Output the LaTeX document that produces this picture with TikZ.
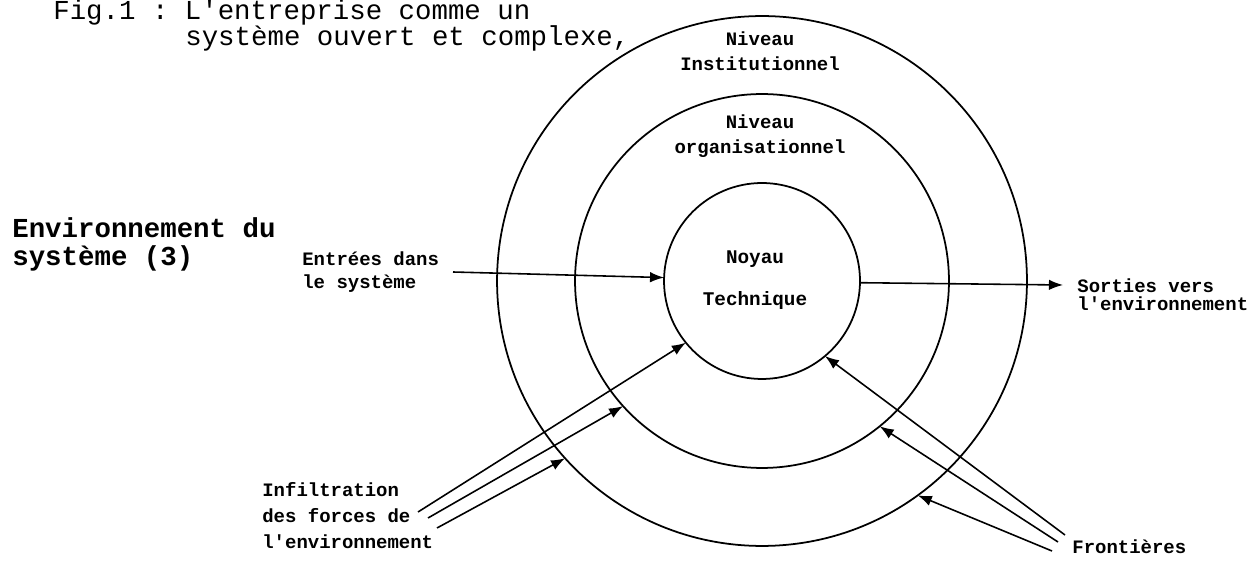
\documentclass[tikz,border=0pt]{standalone}
\usepackage{fontspec}
\setmonofont{Liberation Mono}
\usetikzlibrary{arrows.meta}
\begin{document}
\begin{tikzpicture}[x=0.02cm,y=-0.02cm,
	ring/.style={circle,draw,line width=1pt,inner sep=0pt,outer sep=0pt},
	lbl/.style={font=\ttfamily\bfseries\fontsize{10.8}{14.7}\selectfont,align=left,inner sep=0pt},
	big/.style={font=\ttfamily\fontsize{15.6}{15.9}\selectfont,align=left,inner sep=0pt},
	arr/.style={line width=0.9pt,-{Latex[length=8pt,width=6pt]}}]
	\useasboundingbox (0,0) rectangle (1253,573);

	%title and environment
	\node[big,anchor=base west] (fig) at (53,20) {Fig.1 : L'entreprise comme un};
	\node[big,anchor=base west] (figb) at (185,46) {système ouvert et complexe,};
	\node[big,font=\ttfamily\bfseries\fontsize{15.6}{16.5}\selectfont,anchor=base west] (env) at (12,266) {Environnement du\\système (3)};

	%the three levels
	\node[ring,minimum size=10.6cm] (outer) at (762,281) {};
	\node[ring,minimum size=7.48cm] (middle) at (762,281) {};
	\node[ring,minimum size=3.92cm] (core) at (762,281) {};
	\node[lbl,align=center,anchor=base] (inst) at (760,71) {Niveau\\Institutionnel};
	\node[lbl,align=center,anchor=base] (orga) at (760,154) {Niveau\\organisationnel};
	\node[lbl,align=center,font=\ttfamily\bfseries\fontsize{11}{24.4}\selectfont,anchor=base] (noyau) at (755,306) {Noyau\\Technique};

	%inputs and outputs
	\node[lbl,anchor=base west,font=\ttfamily\bfseries\fontsize{10.8}{13.6}\selectfont] (entree) at (302,289) {Entrées dans\\le système};
	\coordinate (ein) at (453,272);
	\draw[arr] (ein) -- (core.178);
	\node[lbl,anchor=base west,font=\ttfamily\bfseries\fontsize{10.8}{10.8}\selectfont] (sortie) at (1077,311) {Sorties vers\\l'environnement};
	\coordinate (sout) at (1063,285);
	\draw[arr] (core.-1) -- (sout);

	%infiltration of the environment
	\node[lbl,anchor=base west] (infil) at (262,548) {Infiltration\\des forces de\\l'environnement};
	\coordinate (i1) at (418,512);
	\coordinate (i2) at (428,518);
	\coordinate (i3) at (437,528);
	\draw[arr] (i1) -- (core.219);
	\draw[arr] (i2) -- (middle.222);
	\draw[arr] (i3) -- (outer.222);

	%boundaries
	\node[lbl,anchor=base west] (front) at (1072,553) {Frontières};
	\coordinate (f1) at (1065,535);
	\coordinate (f2) at (1058,542);
	\coordinate (f3) at (1052,551);
	\draw[arr] (f1) -- (core.-50);
	\draw[arr] (f2) -- (middle.-51);
	\draw[arr] (f3) -- (outer.-54);
\end{tikzpicture}
\end{document}
